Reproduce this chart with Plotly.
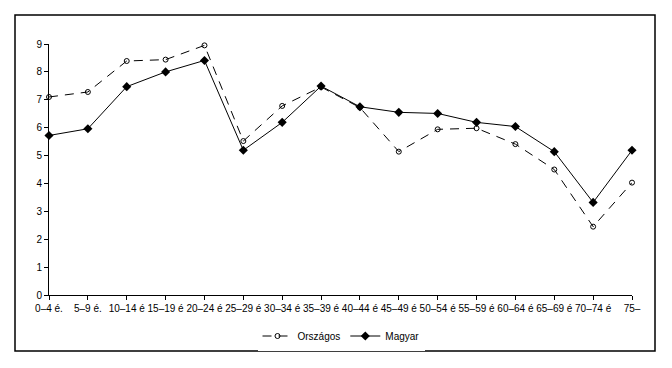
import plotly.graph_objects as go

categories = ["0–4 é.", "5–9 é.", "10–14 é", "15–19 é", "20–24 é", "25–29 é", "30–34 é", "35–39 é",
              "40–44 é", "45–49 é", "50–54 é", "55–59 é", "60–64 é", "65–69 é", "70–74 é", "75–"]
orszagos = [7.1, 7.28, 8.39, 8.44, 8.95, 5.52, 6.78, 7.46, 6.72, 5.14, 5.94, 5.98, 5.41, 4.5, 2.45, 4.03]
magyar = [5.72, 5.96, 7.47, 8.0, 8.41, 5.19, 6.19, 7.49, 6.75, 6.55, 6.51, 6.19, 6.04, 5.14, 3.32, 5.19]
y_ticks = list(range(0, 10))

xs = list(range(len(categories)))
font = dict(family="Liberation Sans, Arial, sans-serif", size=10, color="black")

fig = go.Figure()
fig.add_trace(go.Scatter(
    x=xs, y=orszagos, name="Országos", mode="lines+markers",
    line=dict(color="black", width=1, dash="9px,7px"),
    marker=dict(symbol="circle-open", size=5, color="black", line=dict(width=1, color="black")),
    cliponaxis=False))
fig.add_trace(go.Scatter(
    x=xs, y=magyar, name="Magyar", mode="lines+markers",
    line=dict(color="black", width=1),
    marker=dict(symbol="diamond", size=7, color="black"),
    cliponaxis=False))

OFF = 8  # page body margin
L, R, T, B = 49 - OFF, 632 - OFF, 44 - OFF, 295 - OFF
W, H = 672, 368
pw, ph = R - L, B - T

def px(x):
    return (x - OFF - L) / pw

def py(y):
    return (B - (y - OFF)) / ph

fig.add_shape(type="rect", xref="paper", yref="paper",
              x0=px(15), x1=px(655), y0=py(351), y1=py(15),
              line=dict(color="black", width=1.5), fillcolor="rgba(0,0,0,0)", layer="below")

fig.update_layout(
    width=W, height=H,
    margin=dict(l=L, r=W - R, t=T, b=H - B, autoexpand=False),
    paper_bgcolor="white", plot_bgcolor="white",
    font=font,
    showlegend=True,
    legend=dict(orientation="h", x=px(341), xanchor="center", y=py(336), yanchor="middle",
                font=dict(size=10), itemwidth=30, tracegroupgap=0, traceorder="normal"),
    xaxis=dict(range=[0, 15], tickmode="array", tickvals=xs, ticktext=categories,
               showgrid=False, zeroline=False, showline=True, linecolor="black", linewidth=1,
               ticks="outside", ticklen=4, tickcolor="black", tickangle=0,
               tickfont=dict(size=10)),
    yaxis=dict(range=[0, 9], tickmode="array", tickvals=y_ticks,
               showgrid=False, zeroline=False, showline=True, linecolor="black", linewidth=1,
               ticks="outside", ticklen=4, tickcolor="black", tickfont=dict(size=10)),
)

fig.write_html("out.html")
